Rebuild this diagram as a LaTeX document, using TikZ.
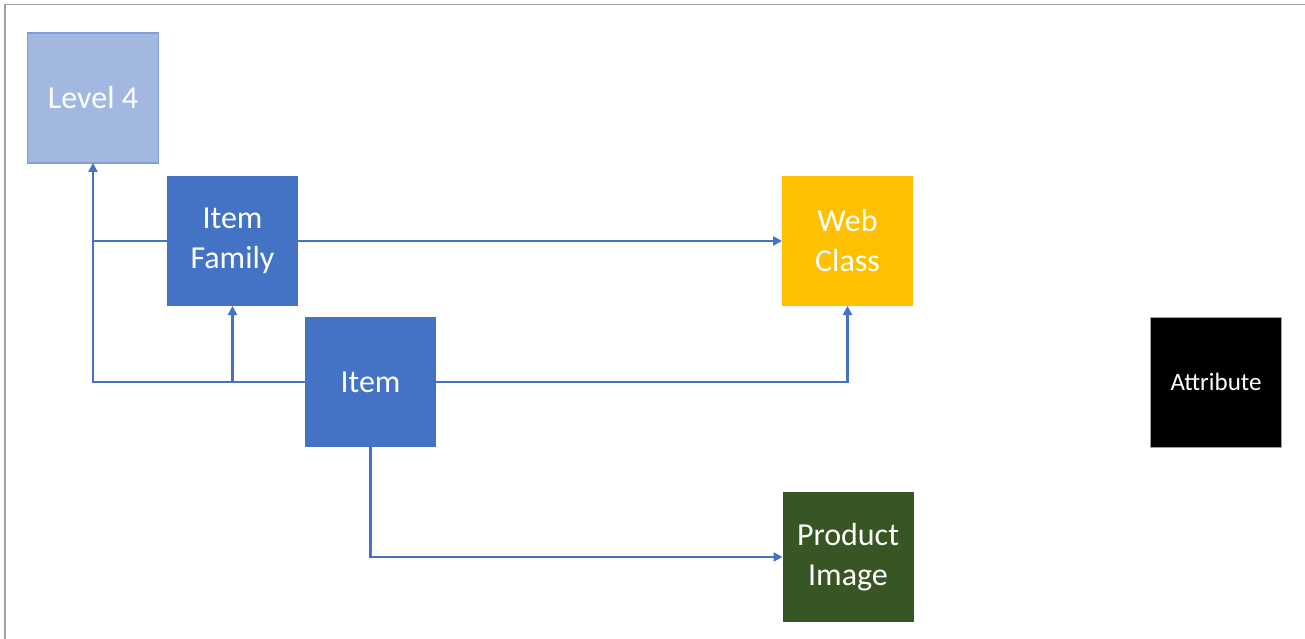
\documentclass[tikz,border=0pt]{standalone}
\usepackage{fontspec}
\setmainfont{Carlito}
\usetikzlibrary{arrows.meta}
\definecolor{pblue}{HTML}{4472C4}
\definecolor{lblue}{HTML}{A2B8E1}
\definecolor{lbord}{HTML}{7E9FD8}
\definecolor{pgold}{HTML}{FFC000}
\definecolor{pgreen}{HTML}{375623}
\definecolor{frame}{HTML}{A0A0A0}
\tikzset{
  box/.style={minimum width=131pt, minimum height=130pt, inner sep=0pt, outer sep=0pt,
    text=white, align=center, font=\fontsize{32}{40}\selectfont},
  conn/.style={draw=pblue, line width=2.4pt, -{Triangle[length=9pt,width=9pt]}},
  link/.style={draw=pblue, line width=2.4pt}
}
\begin{document}
\begin{tikzpicture}[x=1pt,y=-1pt]
\useasboundingbox (0,0) rectangle (1305,639);
\fill[white] (0,0) rectangle (1305,639);
\draw[frame, line width=1.5pt] (5,639) -- (5,4.5) -- (1305,4.5);
\node[box, fill=lblue, draw=lbord, line width=1.2pt] (lvl) at (93,98) {Level 4};
\node[box, fill=pblue] (fam) at (232.5,241) {Item\\Family};
\node[box, fill=pblue] (item) at (370.5,382) {Item};
\node[box, fill=pgold] (web) at (847.5,241) {Web\\Class};
\node[box, fill=black, draw=frame, line width=0.8pt, font=\fontsize{25}{30}\selectfont] (attr) at (1216,382) {Attribute};
\node[box, fill=pgreen] (img) at (848,557) {Product\\Image};
\draw[conn] (item.west) -| (lvl.south);
\draw[conn] (item.west) -| (fam.south);
\draw[link] (fam.west) -- (fam.west -| lvl.south);
\draw[conn] (fam.east) -- (web.west);
\draw[conn] (item.east) -| (web.south);
\draw[conn] (item.south) |- (img.west);
\end{tikzpicture}
\end{document}
